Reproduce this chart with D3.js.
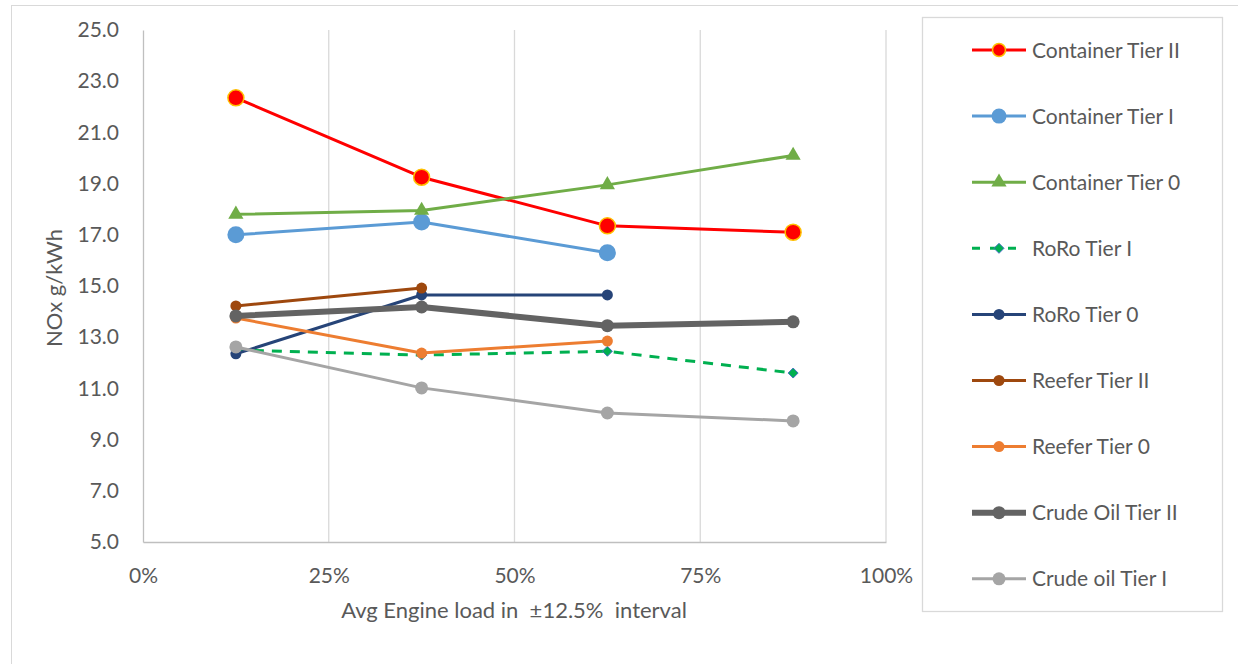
<!DOCTYPE html>
<html>
<head>
<meta charset="utf-8">
<script src="https://cdn.jsdelivr.net/npm/d3@7/dist/d3.min.js"></script>
<style>
  html, body { margin: 0; padding: 0; background: #fff; }
  svg text { font-family: Lato, "Open Sans", sans-serif; fill: #595959; }
</style>
</head>
<body>
<svg id="chart" width="1238" height="664"></svg>
<script>
// Engine load bin centres (fraction of MCR)
const loads = [0.125, 0.375, 0.625, 0.875];

// NOx emission factors, g/kWh, per load bin
const containerTierII = [22.35, 19.25, 17.35, 17.1];
const containerTierI  = [17.0, 17.5, 16.3];
const containerTier0  = [17.8, 17.95, 18.95, 20.1];
const roroTierI       = [12.5, 12.3, 12.45, 11.6];
const roroTier0       = [12.35, 14.65, 14.65];
const reeferTierII    = [14.22, 14.92];
const reeferTier0     = [13.75, 12.38, 12.85];
const crudeOilTierII  = [13.83, 14.18, 13.45, 13.6];
const crudeOilTierI   = [12.62, 11.02, 10.04, 9.73];

const yTicks = [5, 7, 9, 11, 13, 15, 17, 19, 21, 23, 25];
const xTicks = [0, 0.25, 0.5, 0.75, 1];

const series = [
  { name: "Container Tier II", values: containerTierII, color: "#FF0000", width: 3, marker: "circle", r: 8, fill: "#FF0000", stroke: "#FFC000", mstroke: 1.5 },
  { name: "Container Tier I",  values: containerTierI,  color: "#5B9BD5", width: 3, marker: "circle", r: 8.5, fill: "#5B9BD5", stroke: "#5B9BD5", mstroke: 0 },
  { name: "Container Tier 0",  values: containerTier0,  color: "#70AD47", width: 3, marker: "triangle", r: 7, fill: "#70AD47", stroke: "#70AD47", mstroke: 0 },
  { name: "RoRo Tier I",       values: roroTierI,       color: "#00B050", width: 3, dash: "10,8", marker: "diamond", r: 5, fill: "#00B050", stroke: "#4472C4", mstroke: 1 },
  { name: "RoRo Tier 0",       values: roroTier0,       color: "#264478", width: 3, marker: "circle", r: 5.5, fill: "#264478", stroke: "#264478", mstroke: 0 },
  { name: "Reefer Tier II",    values: reeferTierII,    color: "#9E480E", width: 3, marker: "circle", r: 5.5, fill: "#9E480E", stroke: "#9E480E", mstroke: 0 },
  { name: "Reefer Tier 0",     values: reeferTier0,     color: "#ED7D31", width: 3, marker: "circle", r: 5.5, fill: "#ED7D31", stroke: "#ED7D31", mstroke: 0 },
  { name: "Crude Oil Tier II", values: crudeOilTierII,  color: "#636363", width: 6, marker: "circle", r: 6.5, fill: "#636363", stroke: "#636363", mstroke: 0 },
  { name: "Crude oil Tier I",  values: crudeOilTierI,   color: "#A5A5A5", width: 3, marker: "circle", r: 6.5, fill: "#A5A5A5", stroke: "#A5A5A5", mstroke: 0 }
];

const svg = d3.select("#chart");

// Outer chart frame
svg.append("rect")
  .attr("x", 11.5).attr("y", 5.5).attr("width", 1300).attr("height", 700)
  .attr("fill", "none").attr("stroke", "#D9D9D9").attr("stroke-width", 1);

const plot = { left: 143, right: 886, top: 30, bottom: 542 };

const x = d3.scaleLinear().domain([0, 1]).range([plot.left, plot.right]);
const y = d3.scaleLinear().domain([5, 25]).range([plot.bottom, plot.top]);

// Vertical gridlines
svg.append("g")
  .selectAll("line")
  .data(xTicks.slice(1))
  .join("line")
  .attr("x1", d => x(d)).attr("x2", d => x(d))
  .attr("y1", plot.top).attr("y2", plot.bottom)
  .attr("stroke", "#D9D9D9").attr("stroke-width", 1.3);

// Y axis
const yAxis = svg.append("g")
  .attr("transform", `translate(${plot.left},0)`)
  .call(d3.axisLeft(y).tickValues(yTicks).tickFormat(d3.format(".1f")).tickSize(0).tickPadding(24));
yAxis.select(".domain").attr("stroke", "#BFBFBF").attr("stroke-width", 1.3);
yAxis.selectAll("text").attr("font-size", 21).style("fill", "#595959");

// X axis
const xAxis = svg.append("g")
  .attr("transform", `translate(0,${plot.bottom})`)
  .call(d3.axisBottom(x).tickValues(xTicks).tickFormat(d3.format(".0%")).tickSize(0).tickPadding(26));
xAxis.select(".domain").attr("stroke", "#BFBFBF").attr("stroke-width", 1.3);
xAxis.selectAll("text").attr("font-size", 21).style("fill", "#595959");

// Axis titles
svg.append("text")
  .attr("transform", `translate(62,${(plot.top + plot.bottom) / 2 + 2}) rotate(-90)`)
  .attr("text-anchor", "middle").attr("font-size", 22)
  .attr("textLength", 118).attr("lengthAdjust", "spacing")
  .text("NOx g/kWh");

svg.append("text")
  .attr("x", 514).attr("y", 618)
  .attr("text-anchor", "middle").attr("font-size", 22)
  .style("white-space", "pre")
  .text("Avg Engine load in  \u00B112.5%  interval");

const line = d3.line().x((d, i) => x(loads[i])).y(d => y(d));

function drawMarker(g, s, cx, cy) {
  if (s.marker === "circle") {
    g.append("circle").attr("cx", cx).attr("cy", cy).attr("r", s.r)
      .attr("fill", s.fill).attr("stroke", s.stroke).attr("stroke-width", s.mstroke);
  } else if (s.marker === "triangle") {
    g.append("path")
      .attr("d", d3.symbol(d3.symbolTriangle, 100)())
      .attr("transform", `translate(${cx},${cy})`)
      .attr("fill", s.fill);
  } else if (s.marker === "diamond") {
    const r = s.r;
    g.append("path")
      .attr("d", `M${cx},${cy - r}L${cx + r},${cy}L${cx},${cy + r}L${cx - r},${cy}Z`)
      .attr("fill", s.fill).attr("stroke", s.stroke).attr("stroke-width", s.mstroke);
  }
}

// Series lines and markers
const marks = svg.append("g");
series.forEach(s => {
  const g = marks.append("g");
  g.append("path")
    .datum(s.values)
    .attr("d", line)
    .attr("fill", "none")
    .attr("stroke", s.color)
    .attr("stroke-width", s.width)
    .attr("stroke-linejoin", "round")
    .attr("stroke-dasharray", s.dash || null);
  s.values.forEach((v, i) => drawMarker(g, s, x(loads[i]), y(v)));
});

// Legend
const legend = svg.append("g");
legend.append("rect")
  .attr("x", 922.5).attr("y", 17.5).attr("width", 300).attr("height", 594)
  .attr("fill", "#fff").attr("stroke", "#D9D9D9").attr("stroke-width", 1.3);

series.forEach((s, i) => {
  const cy = 50 + i * 66.1;
  const g = legend.append("g");
  g.append("line")
    .attr("x1", 972).attr("x2", 1026).attr("y1", cy).attr("y2", cy)
    .attr("stroke", s.color).attr("stroke-width", s.width)
    .attr("stroke-dasharray", s.dash ? "8,10" : null);
  const ls = Object.assign({}, s, { r: Math.min(s.r, 6.5) });
  if (s.name === "Container Tier I") ls.r = 7.5;
  drawMarker(g, ls, 999, cy);
  g.append("text")
    .attr("x", 1032).attr("y", cy + 7.5)
    .attr("font-size", 21)
    .text(s.name);
});
</script>
</body>
</html>
